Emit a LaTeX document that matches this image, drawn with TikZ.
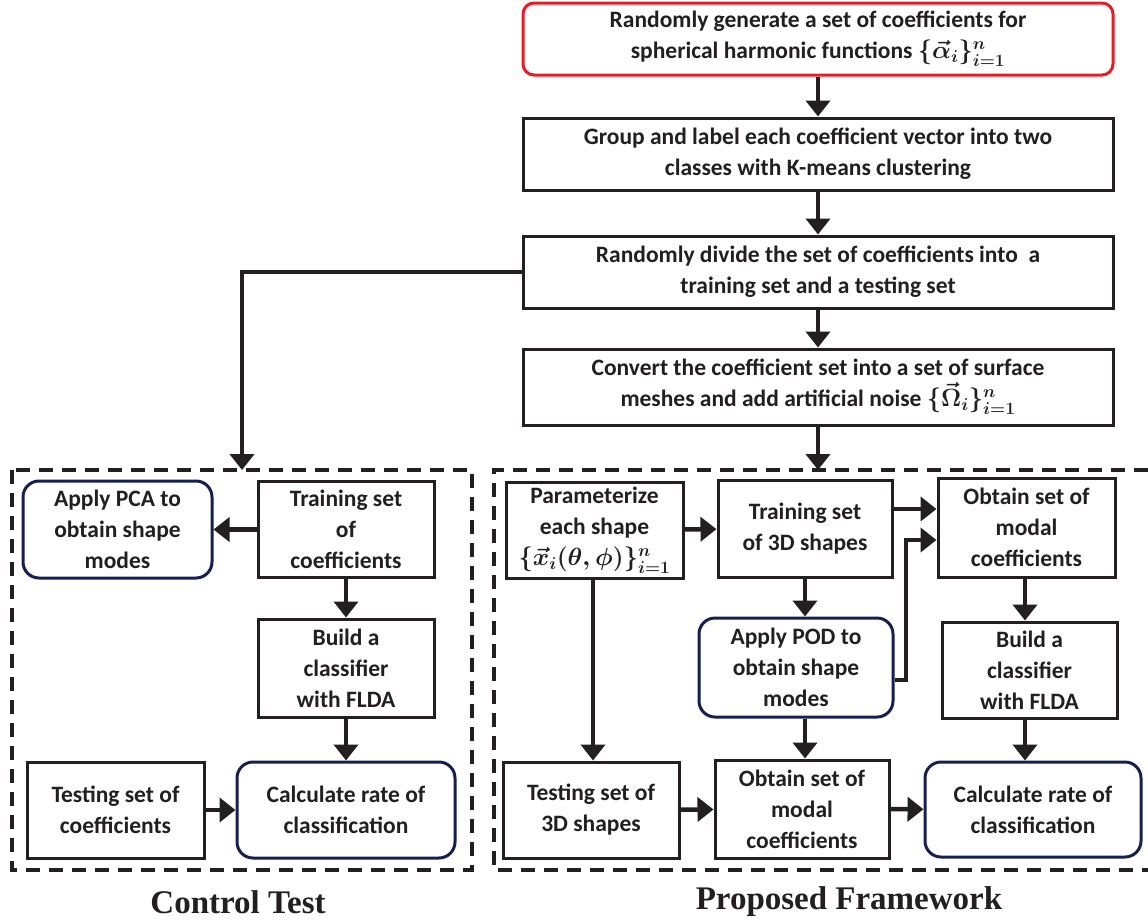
\documentclass[tikz,border=0pt]{standalone}
\usepackage{amsmath}
\usepackage{fontspec}
\setmainfont{Carlito}
\newfontfamily\capfont{Liberation Serif}
\usetikzlibrary{arrows.meta}
\definecolor{lnc}{RGB}{35,31,32}
\definecolor{redb}{RGB}{228,30,38}
\definecolor{navy}{RGB}{22,32,80}
\tikzset{
  box/.style={draw=lnc, line width=3pt, fill=white, inner sep=1pt, align=center,
    font=\fontsize{23.5}{31}\selectfont\bfseries\boldmath, text=lnc},
  rbox/.style={box, draw=navy, rounded corners=16pt},
  topbox/.style={box, draw=redb, rounded corners=11pt},
  arr/.style={draw=lnc, line width=4.5pt, -{Triangle[length=16pt,width=24pt]}},
  dbox/.style={draw=lnc, line width=4pt, dash pattern=on 14pt off 9pt},
  captext/.style={font=\fontsize{33}{36}\selectfont\capfont\bfseries, text=lnc, inner sep=0pt}
}
\begin{document}
\begin{tikzpicture}[x=1pt,y=-1pt]
\useasboundingbox (0,0) rectangle (1148,921);
% main column
\node[topbox, minimum width=590, minimum height=72] (top) at (818,39)
  {Randomly generate a set of coefficients for\\ spherical harmonic functions $\{\vec{\alpha}_i\}_{i=1}^{n}$};
\node[box, minimum width=590, minimum height=72] (grp) at (818,154)
  {Group and label each coefficient vector into two\\ classes with K-means clustering};
\node[box, minimum width=590, minimum height=72] (div) at (818,272)
  {Randomly divide the set of coefficients into\ \ a\\ training set and a testing set};
\node[box, minimum width=590, minimum height=76] (conv) at (818,387)
  {Convert the coefficient set into a set of surface\\ meshes and add artificial noise $\{\vec{\Omega}_i\}_{i=1}^{n}$};
% dashed frames
\coordinate (ctop) at (242,470);
\coordinate (ptop) at (818,470);
\draw[dbox] (12,470) rectangle (472,870);
\draw[dbox] (1148,470) -- (494,470) -- (494,870) -- (1148,870);
% control test nodes
\node[rbox, minimum width=189, minimum height=97] (pca) at (117.5,529.5) {Apply PCA to\\ obtain shape\\ modes};
\node[box, minimum width=176, minimum height=96] (trc) at (346,529.5) {Training set\\ of\\ coefficients};
\node[box, minimum width=176, minimum height=98] (bld) at (346,668) {Build a\\ classifier\\ with FLDA};
\node[box, minimum width=177, minimum height=96] (tsc) at (115.5,810) {Testing set of\\ coefficients};
\node[rbox, minimum width=218, minimum height=96] (calc) at (346,810) {Calculate rate of\\ classification};
% proposed nodes
\node[box, minimum width=177, minimum height=96] (par) at (594.5,530) {Parameterize\\ each shape\\ $\{\vec{x}_i(\theta,\phi)\}_{i=1}^{n}$};
\node[box, minimum width=174, minimum height=97] (tr3) at (805,528.5) {Training set\\ of 3D shapes};
\node[box, minimum width=177, minimum height=99] (obt) at (1026.5,527.5) {Obtain set of\\ modal\\ coefficients};
\node[rbox, minimum width=194, minimum height=99] (pod) at (796,667.5) {Apply POD to\\ obtain shape\\ modes};
\node[box, minimum width=175, minimum height=96] (bfl) at (1029.5,670) {Build a\\ classifier\\ with FLDA};
\node[box, minimum width=176, minimum height=96] (ts3) at (591,810) {Testing set of\\ 3D shapes};
\node[box, minimum width=174, minimum height=98] (ob2) at (802,809) {Obtain set of\\ modal\\ coefficients};
\node[rbox, minimum width=216, minimum height=95] (cr2) at (1033,809.5) {Calculate rate of\\ classification};
% captions
\node[captext] (capc) at (238,902) {Control Test};
\node[captext] (capp) at (849,902) {Proposed Framework};
% helper coordinates
\coordinate (vpar) at (593,0);
\coordinate (vobt) at (1025,0);
\coordinate (ha) at (0,509);
\coordinate (podo) at (0,680);
\coordinate (podc) at (906,540);
% arrows main
\draw[arr] (top) -- (grp);
\draw[arr] (grp) -- (div);
\draw[arr] (div) -- (conv);
\draw[arr] (conv) -- (ptop);
\draw[arr] (div.west) -| (ctop);
% control arrows
\draw[arr] (trc) -- (pca);
\draw[arr] (trc) -- (bld);
\draw[arr] (bld) -- (calc);
\draw[arr] (tsc) -- (calc);
% proposed arrows
\draw[arr] (par) -- (tr3);
\draw[arr] (tr3.east |- ha) -- (obt.west |- ha);
\draw[arr] (pod.east |- podo) -| (podc) -- (obt.west |- podc);
\draw[arr] (tr3.south) -- (tr3.south |- pod.north);
\draw[arr] (tr3.south |- pod.south) -- (tr3.south |- ob2.north);
\draw[arr] (par.south -| vpar) -- (ts3.north -| vpar);
\draw[arr] (obt.south -| vobt) -- (bfl.north -| vobt);
\draw[arr] (bfl.south -| vobt) -- (cr2.north -| vobt);
\draw[arr] (ts3) -- (ob2);
\draw[arr] (ob2) -- (cr2);
\end{tikzpicture}
\end{document}
